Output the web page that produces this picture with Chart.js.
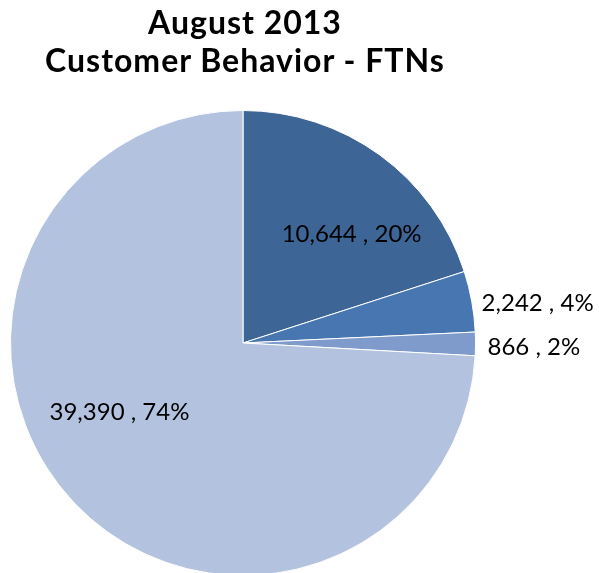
<!DOCTYPE html>
<html lang="en">
<head>
  <meta charset="UTF-8">
  <title>August 2013 Customer Behavior - FTNs</title>
  <style>
    body {
      margin: 0;
      padding: 0;
      background: #ffffff;
      overflow: hidden;
      font-family: 'Lato', sans-serif;
    }

    .title {
      position: absolute;
      top: 3px;
      left: 0;
      width: 490px;
      text-align: center;
      font-weight: bold;
      font-size: 32px;
      letter-spacing: 1px;
      line-height: 38px;
      color: #000;
      z-index: 2;
    }

    .chart-box {
      position: absolute;
      top: 0;
      left: 0;
      width: 599px;
      height: 600px;
    }
  </style>
</head>
<body>
  <div class="title">August 2013<br>Customer Behavior - FTNs</div>
  <div class="chart-box">
    <canvas id="pie-chart"></canvas>
  </div>

  <script src="https://cdn.jsdelivr.net/npm/chart.js"></script>
  <script>
    // values
    const categories = ['Group A', 'Group B', 'Group C', 'Group D'];
    const counts = [10644, 2242, 866, 39390];
    const sliceColors = ['#3D6596', '#4876B0', '#7E9BCB', '#B3C2DE'];

    const total = counts.reduce((a, b) => a + b, 0);

    // where each label sits: inside at a fraction of the radius, or just outside
    const labelPlacement = [
      { outside: false, r: 0.66, shift: 9, dy: 0 },
      { outside: true, gap: 10, shift: 0, dy: 4 },
      { outside: true, gap: 12, shift: 0, dy: 3 },
      { outside: false, r: 0.61, shift: 14, dy: 0 }
    ];

    // draws "value , pct%" next to / inside each slice
    const sliceLabels = {
      id: 'sliceLabels',
      afterDraw(chart) {
        const ctx = chart.ctx;
        const meta = chart.getDatasetMeta(0);
        ctx.save();
        ctx.font = '24px Lato';
        ctx.fillStyle = '#000';
        ctx.textBaseline = 'middle';
        meta.data.forEach((arc, i) => {
          const p = labelPlacement[i];
          const { x, y, startAngle, endAngle, outerRadius } =
            arc.getProps(['x', 'y', 'startAngle', 'endAngle', 'outerRadius'], true);
          const mid = (startAngle + endAngle) / 2 + p.shift * Math.PI / 180;
          const r = p.outside ? outerRadius + p.gap : outerRadius * p.r;
          const lx = x + Math.cos(mid) * r;
          const ly = y + Math.sin(mid) * r + p.dy;
          const pct = Math.round(counts[i] / total * 100);
          const text = counts[i].toLocaleString('en-US') + ' , ' + pct + '%';
          ctx.textAlign = p.outside ? 'left' : 'center';
          ctx.fillText(text, lx, ly);
        });
        ctx.restore();
      }
    };

    new Chart(document.getElementById('pie-chart'), {
      type: 'pie',
      data: {
        labels: categories,
        datasets: [{
          data: counts,
          backgroundColor: sliceColors,
          borderColor: '#ffffff',
          borderWidth: 1
        }]
      },
      options: {
        responsive: true,
        maintainAspectRatio: false,
        animation: false,
        layout: {
          padding: { top: 110, left: 10, right: 123, bottom: 24 }
        },
        plugins: {
          legend: { display: false },
          tooltip: { enabled: false }
        }
      },
      plugins: [sliceLabels]
    });
  </script>
</body>
</html>
